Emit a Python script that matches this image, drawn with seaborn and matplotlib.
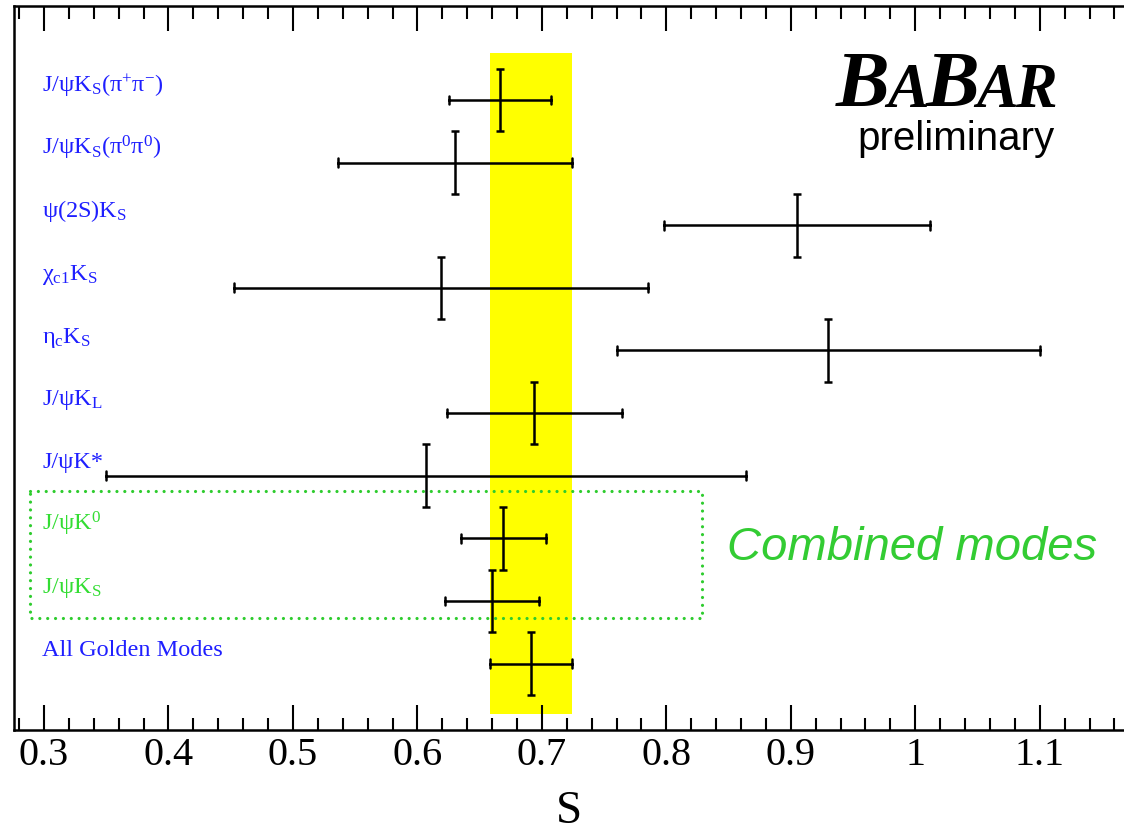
import numpy as np
import pandas as pd
import matplotlib
matplotlib.use("Agg")
import matplotlib.pyplot as plt
from matplotlib.ticker import MultipleLocator, FixedLocator
import seaborn as sns

# Decay modes (top to bottom), displayed labels and measured S with uncertainty
modes = ["psiKs_pipi", "psiKs_pi0pi0", "psi2SKs", "chic1Ks", "etacKs",
         "psiKL", "psiKstar", "psiK0", "psiKs", "golden"]
mode_labels = [
    r"J/ψK$_\mathrm{S}$(π$^\mathrm{+}$π$^\mathrm{-}$)",
    r"J/ψK$_\mathrm{S}$(π$^\mathrm{0}$π$^\mathrm{0}$)",
    r"ψ(2S)K$_\mathrm{S}$",
    r"χ$_\mathrm{c1}$K$_\mathrm{S}$",
    r"η$_\mathrm{c}$K$_\mathrm{S}$",
    r"J/ψK$_\mathrm{L}$",
    r"J/ψK*",
    r"J/ψK$^\mathrm{0}$",
    r"J/ψK$_\mathrm{S}$",
    "All Golden Modes",
]
s_values = [0.666, 0.630, 0.905, 0.619, 0.930, 0.694, 0.607, 0.669, 0.660, 0.691]
s_errors = [0.041, 0.094, 0.107, 0.166, 0.170, 0.070, 0.257, 0.034, 0.038, 0.033]
label_colors = ["#1f1fff"] * 7 + ["#33dd33"] * 2 + ["#1f1fff"]
x_ticks = [0.3, 0.4, 0.5, 0.6, 0.7, 0.8, 0.9, 1.0, 1.1]

sns.set_theme(style="ticks")
plt.rcParams["font.family"] = ["Liberation Serif", "DejaVu Serif"]
plt.rcParams["mathtext.fontset"] = "custom"
plt.rcParams["mathtext.rm"] = "Liberation Serif"
plt.rcParams["mathtext.it"] = "Liberation Serif:italic"

W, H = 1124, 837
fig = plt.figure(figsize=(W / 100, H / 100), dpi=100)
fig.patch.set_facecolor("white")
ax = fig.add_axes([14 / W, 1 - 731 / H, 1 - 14 / W, (731 - 7) / H])
ax.set_facecolor("white")

# long table: each mode contributes its lower and upper interval edge
lo = np.array(s_values) - np.array(s_errors)
hi = np.array(s_values) + np.array(s_errors)
df = pd.DataFrame({
    "mode": modes * 2,
    "S": np.concatenate([lo, hi]),
})

# combined average band
ax.fill_betweenx([-0.75, 9.8], lo[-1], hi[-1], color="#ffff00", lw=0, zorder=0.5)

sns.pointplot(data=df, x="S", y="mode", order=modes, estimator="mean",
              errorbar=lambda v: (v.min(), v.max()), capsize=0.14,
              color="black", linestyle="none", marker="o", markersize=0,
              err_kws={"linewidth": 1.8}, ax=ax, zorder=3)

# vertical bar marking each central value
rows = np.arange(len(modes))
ax.errorbar(s_values, rows, yerr=0.5, fmt="none", ecolor="black",
            elinewidth=1.8, capsize=3, capthick=1.8, zorder=3)

# mode labels
for i, (lab, col) in enumerate(zip(mode_labels, label_colors)):
    ax.text(0.2986, i - 0.14, lab, color=col, fontsize=17.5, ha="left",
            va="baseline", zorder=4)

# dotted box around the combined modes
bx0, bx1, by0, by1 = 0.2888, 0.829, 6.24, 8.27
ax.plot([bx0, bx1, bx1, bx0, bx0], [by0, by0, by1, by1, by0],
        color="#2ecc2e", lw=2.3, linestyle=(0, (0.01, 2.45)),
        dash_capstyle="round", zorder=4)
ax.text(0.8487, 7.14, "Combined modes", color="#33cc33", fontsize=34,
        family=["Liberation Sans", "DejaVu Sans"], style="italic",
        ha="left", va="center", zorder=4)

ax.set_xlim(0.2759, 0.3 + (W - 44.6) / 1244)
ax.set_ylim(10.06, -1.50)
ax.set_yticks([])
ax.set_ylabel("")
ax.xaxis.set_major_locator(FixedLocator(x_ticks))
ax.set_xticklabels([f"{v:g}" for v in x_ticks])
ax.xaxis.set_minor_locator(MultipleLocator(0.02))
ax.tick_params(axis="x", which="both", direction="in", top=True, bottom=True,
               width=1.5, color="black", labelsize=29, pad=4, labelcolor="black")
ax.tick_params(axis="x", which="major", length=18)
ax.tick_params(axis="x", which="minor", length=9)
for side in ["left", "top", "bottom"]:
    ax.spines[side].set_linewidth(1.8)
    ax.spines[side].set_color("black")
ax.spines["right"].set_visible(False)
ax.set_xlabel("S", fontsize=34, labelpad=12, color="black")

# experiment logo
fig.canvas.draw()
renderer = fig.canvas.get_renderer()
logo_parts = [("B", 58), ("A", 45), ("B", 58), ("A", 45), ("R", 45)]
x_px, base_px = 836, 107
for t, size in logo_parts:
    txt = fig.text(x_px / W, 1 - base_px / H, t, fontsize=size,
                   family="Liberation Serif", weight="bold", style="italic",
                   ha="left", va="baseline", color="black")
    bb = txt.get_window_extent(renderer)
    x_px += bb.width - 3
fig.text(857 / W, 1 - 150 / H, "preliminary", fontsize=29,
         family=["Liberation Sans", "DejaVu Sans"], ha="left", va="baseline",
         color="black")

fig.savefig("out.png", dpi=100, facecolor="white")
